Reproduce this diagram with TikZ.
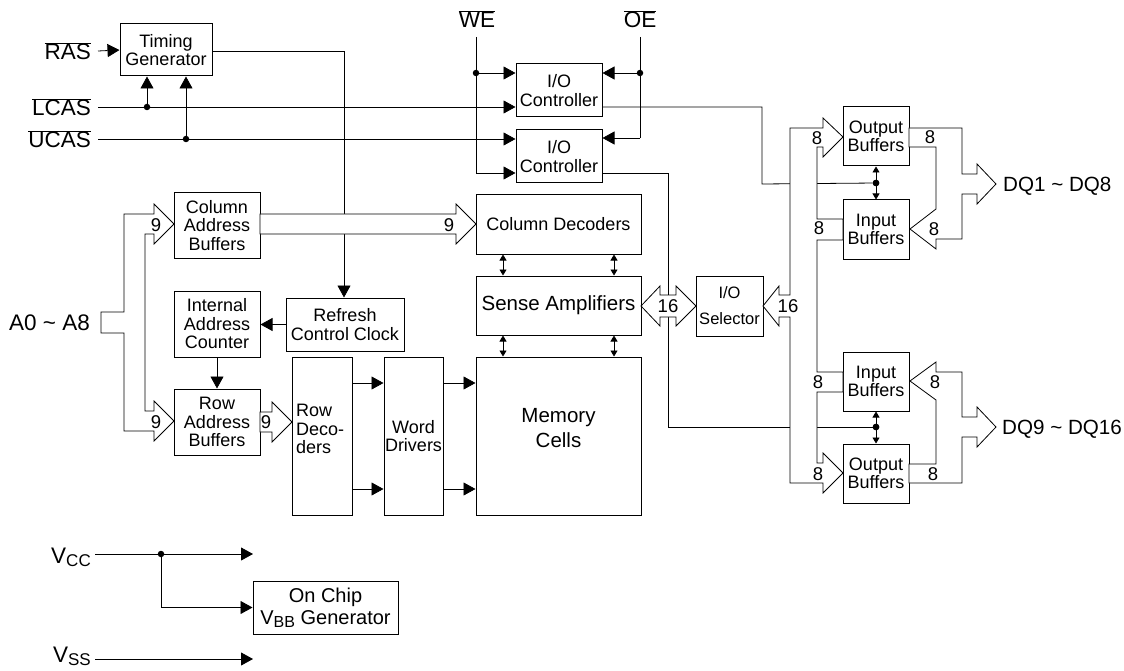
\documentclass[tikz,border=0pt]{standalone}
\usepackage{fontspec}
\setmainfont{Liberation Sans}
\usetikzlibrary{arrows.meta}
\begin{document}
\begin{tikzpicture}[x=1pt,y=-1pt,
  box/.style={draw, line width=1pt, inner sep=0pt, align=center, font=\fontsize{18}{18.5}\selectfont},
  ln/.style={line width=0.8pt},
  arr/.style={ln, -{Triangle[length=12pt,width=13pt]}},
  darr/.style={ln, {Triangle[length=6pt,width=7pt]}-{Triangle[length=6pt,width=7pt]}},
  bus/.style={draw, fill=white, line width=0.8pt, line join=miter},
  sig/.style={inner sep=0pt, font=\fontsize{22.5}{24}\selectfont},
  num/.style={inner sep=0pt, font=\fontsize{18.5}{18.5}\selectfont},
  jdot/.style={circle, fill, inner sep=0pt, minimum size=6.5pt}
]
\useasboundingbox (0,0) rectangle (1124,671);

% ---------- boxes ----------
\node[box, minimum width=92pt, minimum height=52pt] (tg) at (166,50) {Timing\\Generator};
\node[box, minimum width=86pt, minimum height=53pt] (ioc1) at (559,90.5) {I/O\\Controller};
\node[box, minimum width=86pt, minimum height=53pt] (ioc2) at (559,156.5) {I/O\\Controller};
\node[box, minimum width=86pt, minimum height=65pt] (cab) at (217,225.5) {Column\\Address\\Buffers};
\node[box, minimum width=86pt, minimum height=66pt] (iac) at (217,324) {Internal\\Address\\Counter};
\node[box, minimum width=86pt, minimum height=66pt] (rab) at (217,422) {Row\\Address\\Buffers};
\node[box, minimum width=118pt, minimum height=53pt] (rcc) at (345,324.5) {Refresh\\Control Clock};
\node[box, minimum width=165pt, minimum height=59pt] (cd) at (558.5,224.5) {Column Decoders};
\node[box, minimum width=165pt, minimum height=59pt, font=\fontsize{20.5}{22}\selectfont] (sa) at (558.5,305.5) {Sense Amplifiers};
\node[box, minimum width=165pt, minimum height=158pt] (mc) at (558.5,436) {};
\node[box, minimum width=60pt, minimum height=158pt] (rd) at (322,436) {};
\node[box, minimum width=59pt, minimum height=158pt] (wd) at (413.5,436) {Word\\Drivers};
\node[box, minimum width=67pt, minimum height=60pt, font=\fontsize{16.5}{26}\selectfont] (ios) at (729.5,306) {I/O\\Selector};
\node[box, minimum width=66pt, minimum height=59pt] (ob1) at (876,136.5) {Output\\Buffers};
\node[box, minimum width=66pt, minimum height=59pt] (ib1) at (876,229.5) {Input\\Buffers};
\node[box, minimum width=66pt, minimum height=59pt] (ib2) at (876,381.5) {Input\\Buffers};
\node[box, minimum width=66pt, minimum height=59pt] (ob2) at (876,473.5) {Output\\Buffers};
\node[box, minimum width=145pt, minimum height=53pt, font=\fontsize{20}{22}\selectfont] (vbb) at (325.5,607.5) {On Chip\\V\raisebox{-3pt}{\fontsize{16}{16}\selectfont BB} Generator};

\node[align=center, inner sep=0pt, font=\fontsize{20.5}{25}\selectfont] (mct) at (558.5,428) {Memory\\Cells};
\node[anchor=west, align=left, inner sep=0pt, font=\fontsize{18}{18.5}\selectfont] (rdt) at (296,429) {Row\\Deco-\\ders};

% ---------- signal labels ----------
\node[sig, anchor=base east] (ras) at (91,60) {$\overline{\mbox{RAS}}$};
\node[sig, anchor=base east] (lcas) at (91,116) {$\overline{\mbox{LCAS}}$};
\node[sig, anchor=base east] (ucas) at (91,148) {$\overline{\mbox{UCAS}}$};
\node[sig, anchor=base] (we) at (477,28) {$\overline{\mbox{WE}}$};
\node[sig, anchor=base] (oe) at (640,28) {$\overline{\mbox{OE}}$};
\node[sig, anchor=base east] (addr) at (90,330.5) {A0 \char`\~{} A8};
\node[sig, anchor=base west, font=\fontsize{20.6}{22}\selectfont] (dqa) at (1003,191.5) {DQ1 \char`\~{} DQ8};
\node[sig, anchor=base west, font=\fontsize{20.6}{22}\selectfont] (dqb) at (1002,434.5) {DQ9 \char`\~{} DQ16};
\node[sig, anchor=base east] (vcc) at (91,563) {V\raisebox{-3pt}{\fontsize{17}{17}\selectfont CC}};
\node[sig, anchor=base east] (vss) at (91,662) {V\raisebox{-3pt}{\fontsize{17}{17}\selectfont SS}};

% ---------- coordinates ----------
\coordinate (rasS) at (98,51);
\coordinate (lcasS) at (98,107);
\coordinate (ucasS) at (98,139);
\coordinate (weS) at (476,37);
\coordinate (weB) at (476,173);
\coordinate (oeS) at (640,37);
\coordinate (oeB) at (640,138);
\coordinate (k1) at (762,107);
\coordinate (k1b) at (762,184);
\coordinate (k2) at (668,173);
\coordinate (k2b) at (668,427);
\coordinate (k3) at (344,51);
\coordinate (r1) at (0,383);
\coordinate (r2) at (0,489);
\coordinate (cx1) at (503,0);
\coordinate (cx2) at (614,0);
\coordinate (vccS) at (95,554);
\coordinate (vccE) at (253,554);
\coordinate (vssS) at (95,659);
\coordinate (vssE) at (253,659);

\node[jdot] (d1) at (147,107) {};
\node[jdot] (d2) at (186,139) {};
\node[jdot] (d3) at (476,73) {};
\node[jdot] (d4) at (640,73) {};
\node[jdot] (d5) at (876,183) {};
\node[jdot] (d6) at (876,427) {};
\node[jdot] (d7) at (161,554) {};

% ---------- control lines ----------
\draw[arr] (rasS) -- (tg.west);
\draw[arr] (lcasS) -- (ioc1.west |- lcasS);
\draw[arr] (ucasS) -- (ioc2.west |- ucasS);
\draw[arr] (d1) -- (d1 |- tg.south);
\draw[arr] (d2) -- (d2 |- tg.south);
\draw[ln] (weS) -- (weB);
\draw[arr] (weB) -- (ioc2.west |- weB);
\draw[arr] (d3) -- (ioc1.west |- d3);
\draw[ln] (oeS) -- (oeB);
\draw[arr] (oeB) -- (ioc2.east |- oeB);
\draw[arr] (d4) -- (ioc1.east |- d4);
\draw[ln] (ioc1.east |- k1) -- (k1) -- (k1b) -- (d5);
\draw[ln] (ioc2.east |- k2) -- (k2) -- (k2b) -- (d6);
\draw[arr] (tg.east |- k3) -- (k3) -- (k3 |- rcc.north);
\draw[arr] (rcc.west) -- (rcc.west -| iac.east);
\draw[arr] (iac.south) -- (rab.north);
\draw[arr] (rd.east |- r1) -- (wd.west |- r1);
\draw[arr] (rd.east |- r2) -- (wd.west |- r2);
\draw[arr] (wd.east |- r1) -- (mc.west |- r1);
\draw[arr] (wd.east |- r2) -- (mc.west |- r2);
\draw[darr] (cd.south -| cx1) -- (sa.north -| cx1);
\draw[darr] (cd.south -| cx2) -- (sa.north -| cx2);
\draw[darr] (sa.south -| cx1) -- (mc.north -| cx1);
\draw[darr] (sa.south -| cx2) -- (mc.north -| cx2);
\draw[darr] (ob1.south) -- (ib1.north);
\draw[darr] (ib2.south) -- (ob2.north);
\draw[arr] (vccS) -- (vccE);
\draw[arr] (d7) -- (d7 |- vbb.west) -- (vbb.west);
\draw[arr] (vssS) -- (vssE);

% ---------- hollow buses ----------
\draw[bus] (101,312) -- (124,312) -- (124,214) -- (154,214) -- (154,204) -- (174,224) -- (154,244) -- (154,234) -- (145,234) -- (145,411) -- (154,411) -- (154,401) -- (174,421) -- (154,441) -- (154,431) -- (124,431) -- (124,333) -- (101,333) -- cycle;
\draw[bus] (260,214) -- (456,214) -- (456,204) -- (476,224) -- (456,244) -- (456,234) -- (260,234) -- cycle;
\draw[bus] (260,412) -- (272,412) -- (272,402) -- (292,422) -- (272,442) -- (272,432) -- (260,432) -- cycle;
\draw[bus] (641,306) -- (660,286) -- (660,295) -- (676,295) -- (676,286) -- (696,306) -- (676,326) -- (676,317) -- (660,317) -- (660,326) -- cycle;
\draw[bus] (790,128) -- (823,128) -- (823,118) -- (843,137) -- (823,157) -- (823,147) -- (817,147) -- (817,219) -- (843,219) -- (843,240) -- (817,240) -- (817,372) -- (843,372) -- (843,392) -- (817,392) -- (817,463) -- (823,463) -- (823,453) -- (843,473) -- (823,493) -- (823,483) -- (790,483) -- (790,317) -- (779,317) -- (779,326) -- (763,306) -- (779,286) -- (779,295) -- (790,295) -- cycle;
\draw[bus] (909,128) -- (962,128) -- (962,174) -- (977,174) -- (977,164) -- (996,184) -- (977,204) -- (977,194) -- (962,194) -- (962,239) -- (936,239) -- (936,249) -- (910,229) -- (936,209) -- (936,147) -- (909,147) -- cycle;
\draw[bus] (910,381) -- (936,362) -- (936,372) -- (962,372) -- (962,417) -- (977,417) -- (977,407) -- (996,427) -- (977,447) -- (977,437) -- (962,437) -- (962,483) -- (909,483) -- (909,464) -- (936,464) -- (936,400) -- cycle;

% redraw dots on top
\node[jdot] at (d5) {};
\node[jdot] at (d6) {};

% ---------- bus width labels ----------
\node[num] (n1) at (156,225) {9};
\node[num] (n2) at (156,422) {9};
\node[num] (n3) at (449,225) {9};
\node[num] (n4) at (266,422) {9};
\node[num] (n5) at (668,306) {16};
\node[num] (n6) at (788,306) {16};
\node[num] (n7) at (817,138) {8};
\node[num] (n8) at (819,228) {8};
\node[num] (n9) at (930,137) {8};
\node[num] (n10) at (934,229) {8};
\node[num] (n11) at (818,382) {8};
\node[num] (n12) at (935,382) {8};
\node[num] (n13) at (818,474) {8};
\node[num] (n14) at (933,474) {8};
\end{tikzpicture}
\end{document}
